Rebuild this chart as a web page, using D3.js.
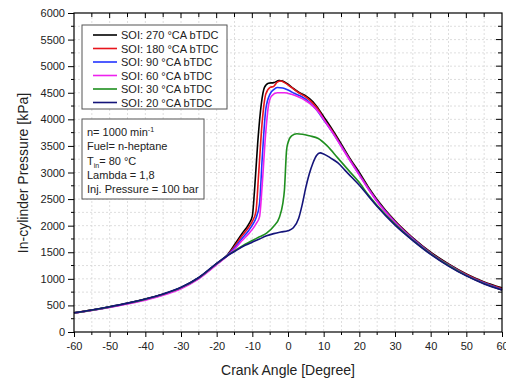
<!DOCTYPE html>
<html lang="en">
<head>
<meta charset="UTF-8">
<title>In-cylinder pressure</title>
<style>
  body { margin: 0; background: #fff; }
  text { font-family: "Liberation Sans", Arial, sans-serif; fill: #222; }
</style>
</head>
<body>
<svg id="chart" width="506" height="382"></svg>
<script src="https://d3js.org/d3.v7.min.js"></script>
<script>
// ---- data ----
const xTicks = [-60, -50, -40, -30, -20, -10, 0, 10, 20, 30, 40, 50, 60];
const yTicks = [0, 500, 1000, 1500, 2000, 2500, 3000, 3500, 4000, 4500, 5000, 5500, 6000];

const seriesNames = ["SOI: 270 °CA bTDC", "SOI: 180 °CA bTDC", "SOI: 90 °CA bTDC",
                     "SOI: 60 °CA bTDC", "SOI: 30 °CA bTDC", "SOI: 20 °CA bTDC"];
const seriesColors = ["#000000", "#e8141c", "#2233ff", "#ee22ee", "#1f8f1f", "#14147a"];

const angle270 = [-60,-55,-50,-45,-40,-35,-30,-25,-20,-17,-15,-13,-11,-10,-9.4,-8.5,-7.5,-6.6,-5.5,-4,-2.5,-1.5,0,1.5,3,5,7,8.5,10,12.5,15,17.5,20,22.5,25,30,35,40,45,50,55,60];
const p270     = [360,412,472,540,618,712,835,1020,1285,1450,1640,1840,2030,2180,2650,3550,4280,4600,4680,4690,4730,4720,4660,4580,4510,4440,4330,4200,4050,3800,3530,3250,3000,2730,2490,2090,1770,1500,1280,1090,940,830];

const angle180 = [-60,-55,-50,-45,-40,-35,-30,-25,-20,-17,-15,-13,-11,-10,-9,-8.2,-7.3,-6.2,-5,-4,-3,-2,-1,1,3,5,7,8.5,10,12.5,15,17.5,20,22.5,25,30,35,40,45,50,55,60];
const p180     = [360,412,470,538,615,708,830,1015,1280,1445,1610,1800,1970,2080,2260,3000,3900,4480,4600,4620,4700,4720,4690,4600,4500,4420,4300,4180,4010,3770,3500,3230,2970,2710,2470,2080,1760,1490,1270,1080,930,815];

const angle90 = [-60,-55,-50,-45,-40,-35,-30,-25,-20,-17,-15,-13,-11,-10,-9,-8,-7.2,-6.2,-5,-4,-3,-1.5,0,2,4,6,8,10,12.5,15,17.5,20,22.5,25,30,35,40,45,50,55,60];
const p90     = [358,410,468,535,610,703,825,1010,1275,1440,1580,1750,1910,2010,2140,2400,3300,4200,4480,4560,4600,4590,4550,4480,4420,4320,4180,3990,3750,3490,3220,2960,2700,2460,2070,1750,1480,1260,1070,920,800];

const angle60 = [-60,-55,-50,-45,-40,-35,-30,-25,-20,-17,-15,-13,-11,-10,-9,-8,-7.2,-6.3,-5.5,-4.6,-3,-1,1,3,5,7,9,10,12.5,15,17.5,20,22.5,25,30,35,40,45,50,55,60];
const p60     = [355,405,460,525,600,692,815,1000,1265,1430,1555,1710,1850,1930,2030,2160,2800,3700,4250,4440,4500,4500,4470,4420,4350,4250,4100,4000,3750,3480,3210,2950,2690,2450,2060,1740,1470,1250,1060,910,790];

const angle30 = [-60,-55,-50,-45,-40,-35,-30,-25,-20,-17,-15,-12,-10,-8,-6,-4,-2.4,-1.5,-1,-0.4,0,1,2.5,4,6,8.5,11,14,17,20,22.5,25,30,35,40,45,50,55,60];
const p30     = [360,412,472,540,618,712,835,1020,1285,1435,1525,1650,1720,1790,1860,1990,2160,2400,2670,3420,3560,3690,3730,3720,3690,3640,3500,3270,3040,2810,2580,2380,2030,1730,1470,1250,1060,910,790];

const angle20 = [-60,-55,-50,-45,-40,-35,-30,-25,-20,-17,-15,-12,-10,-8,-6,-4,-2,0,1.5,3,4,5,6,7,8,9,10,12,14,16,18,20,22.5,25,30,35,40,45,50,55,60];
const p20     = [362,414,475,543,622,716,840,1025,1290,1435,1515,1630,1690,1750,1810,1850,1880,1905,1960,2140,2400,2720,2980,3180,3320,3370,3350,3270,3180,3040,2900,2760,2560,2360,2010,1720,1460,1240,1055,905,790];

const seriesAngles = [angle270, angle180, angle90, angle60, angle30, angle20];
const seriesPressures = [p270, p180, p90, p60, p30, p20];

const infoLines = ["n= 1000 min", "Fuel= n-heptane", "T", "Lambda = 1,8", "Inj. Pressure = 100 bar"];

// ---- layout ----
const svg = d3.select("#chart");
const plotL = 74, plotR = 502, plotT = 13, plotB = 332;

const x = d3.scaleLinear().domain([-60, 60]).range([plotL, plotR]);
const y = d3.scaleLinear().domain([0, 6000]).range([plotB, plotT]);

const minorX = d3.range(-60, 61, 5);
const minorY = d3.range(0, 6001, 250);

// grid
const grid = svg.append("g").attr("stroke", "#d6d6d6").attr("stroke-dasharray", "2,2").attr("stroke-width", 0.8);
grid.selectAll(".gx").data(minorX.slice(1, -1)).join("line")
    .attr("x1", d => x(d)).attr("x2", d => x(d)).attr("y1", plotT).attr("y2", plotB);
grid.selectAll(".gy").data(minorY.slice(1, -1)).join("line")
    .attr("x1", plotL).attr("x2", plotR).attr("y1", d => y(d)).attr("y2", d => y(d));

// lines
const line = d3.line().curve(d3.curveMonotoneX).x(d => x(d[0])).y(d => y(d[1]));
svg.append("g").selectAll("path")
    .data(seriesPressures.map((p, i) => seriesAngles[i].map((a, j) => [a, p[j]])))
    .join("path")
    .attr("fill", "none")
    .attr("stroke", (d, i) => seriesColors[i])
    .attr("stroke-width", 1.6)
    .attr("d", line);

// axes
const fmt = d => String(d);
const xAxis = d3.axisBottom(x).tickValues(xTicks).tickFormat(fmt).tickSize(5).tickPadding(5);
const gx = svg.append("g").attr("transform", `translate(0,${plotB})`).call(xAxis);
const yAxis = d3.axisLeft(y).tickValues(yTicks).tickFormat(fmt).tickSize(6).tickPadding(3);
const gy = svg.append("g").attr("transform", `translate(${plotL},0)`).call(yAxis);
[gx, gy].forEach(g => {
  g.select(".domain").remove();
  g.selectAll("text").style("font-size", "11px").attr("fill", "#222");
  g.selectAll("line").attr("stroke", "#000");
});

// minor ticks on bottom/left, and ticks on top/right
const ticks = svg.append("g").attr("stroke", "#000").attr("stroke-width", 1);
ticks.selectAll(".mb").data(minorX.filter(d => d % 10 !== 0)).join("line")
    .attr("x1", d => x(d)).attr("x2", d => x(d)).attr("y1", plotB).attr("y2", plotB + 3);
ticks.selectAll(".ml").data(minorY.filter(d => d % 500 !== 0)).join("line")
    .attr("x1", plotL).attr("x2", plotL - 3).attr("y1", d => y(d)).attr("y2", d => y(d));
ticks.selectAll(".mt").data(minorX.slice(1, -1)).join("line")
    .attr("x1", d => x(d)).attr("x2", d => x(d)).attr("y1", plotT).attr("y2", d => plotT + (d % 10 === 0 ? 5 : 4));
ticks.selectAll(".mr").data(minorY.slice(1, -1)).join("line")
    .attr("x1", plotR).attr("x2", d => plotR - (d % 500 === 0 ? 6 : 4)).attr("y1", d => y(d)).attr("y2", d => y(d));

// frame
svg.append("rect").attr("x", plotL).attr("y", plotT).attr("width", plotR - plotL).attr("height", plotB - plotT)
    .attr("fill", "none").attr("stroke", "#000").attr("stroke-width", 1.2);

// axis titles
svg.append("text").attr("x", 288).attr("y", 375).attr("text-anchor", "middle")
    .style("font-size", "14px").text("Crank Angle [Degree]");
svg.append("text").attr("transform", "translate(28,173) rotate(-90)").attr("text-anchor", "middle")
    .style("font-size", "14px").text("In-cylinder Pressure [kPa]");

// legend
const legend = svg.append("g");
legend.append("rect").attr("x", 82).attr("y", 25).attr("width", 145).attr("height", 84)
    .attr("fill", "#fff").attr("stroke", "#555").attr("stroke-width", 1);
seriesNames.forEach((name, i) => {
  const ly = 35 + i * 13.5;
  legend.append("line").attr("x1", 93).attr("x2", 117).attr("y1", ly).attr("y2", ly)
      .attr("stroke", seriesColors[i]).attr("stroke-width", 1.6);
  legend.append("text").attr("x", 121).attr("y", ly + 4).style("font-size", "11px").text(name);
});

// info box
const info = svg.append("g");
info.append("rect").attr("x", 82).attr("y", 119).attr("width", 122).attr("height", 80)
    .attr("fill", "#fff").attr("stroke", "#555").attr("stroke-width", 1);
infoLines.forEach((t, i) => {
  const ty = 136 + i * 14.3;
  const txt = info.append("text").attr("x", 87).attr("y", ty).style("font-size", "11px");
  if (i === 0) {
    txt.append("tspan").text(t);
    txt.append("tspan").attr("dy", -4).style("font-size", "7px").text("-1");
  } else if (i === 2) {
    txt.append("tspan").text("T");
    txt.append("tspan").attr("dy", 3).style("font-size", "7px").text("in");
    txt.append("tspan").attr("dy", -3).text("= 80 °C");
  } else {
    txt.text(t);
  }
});
</script>
</body>
</html>
